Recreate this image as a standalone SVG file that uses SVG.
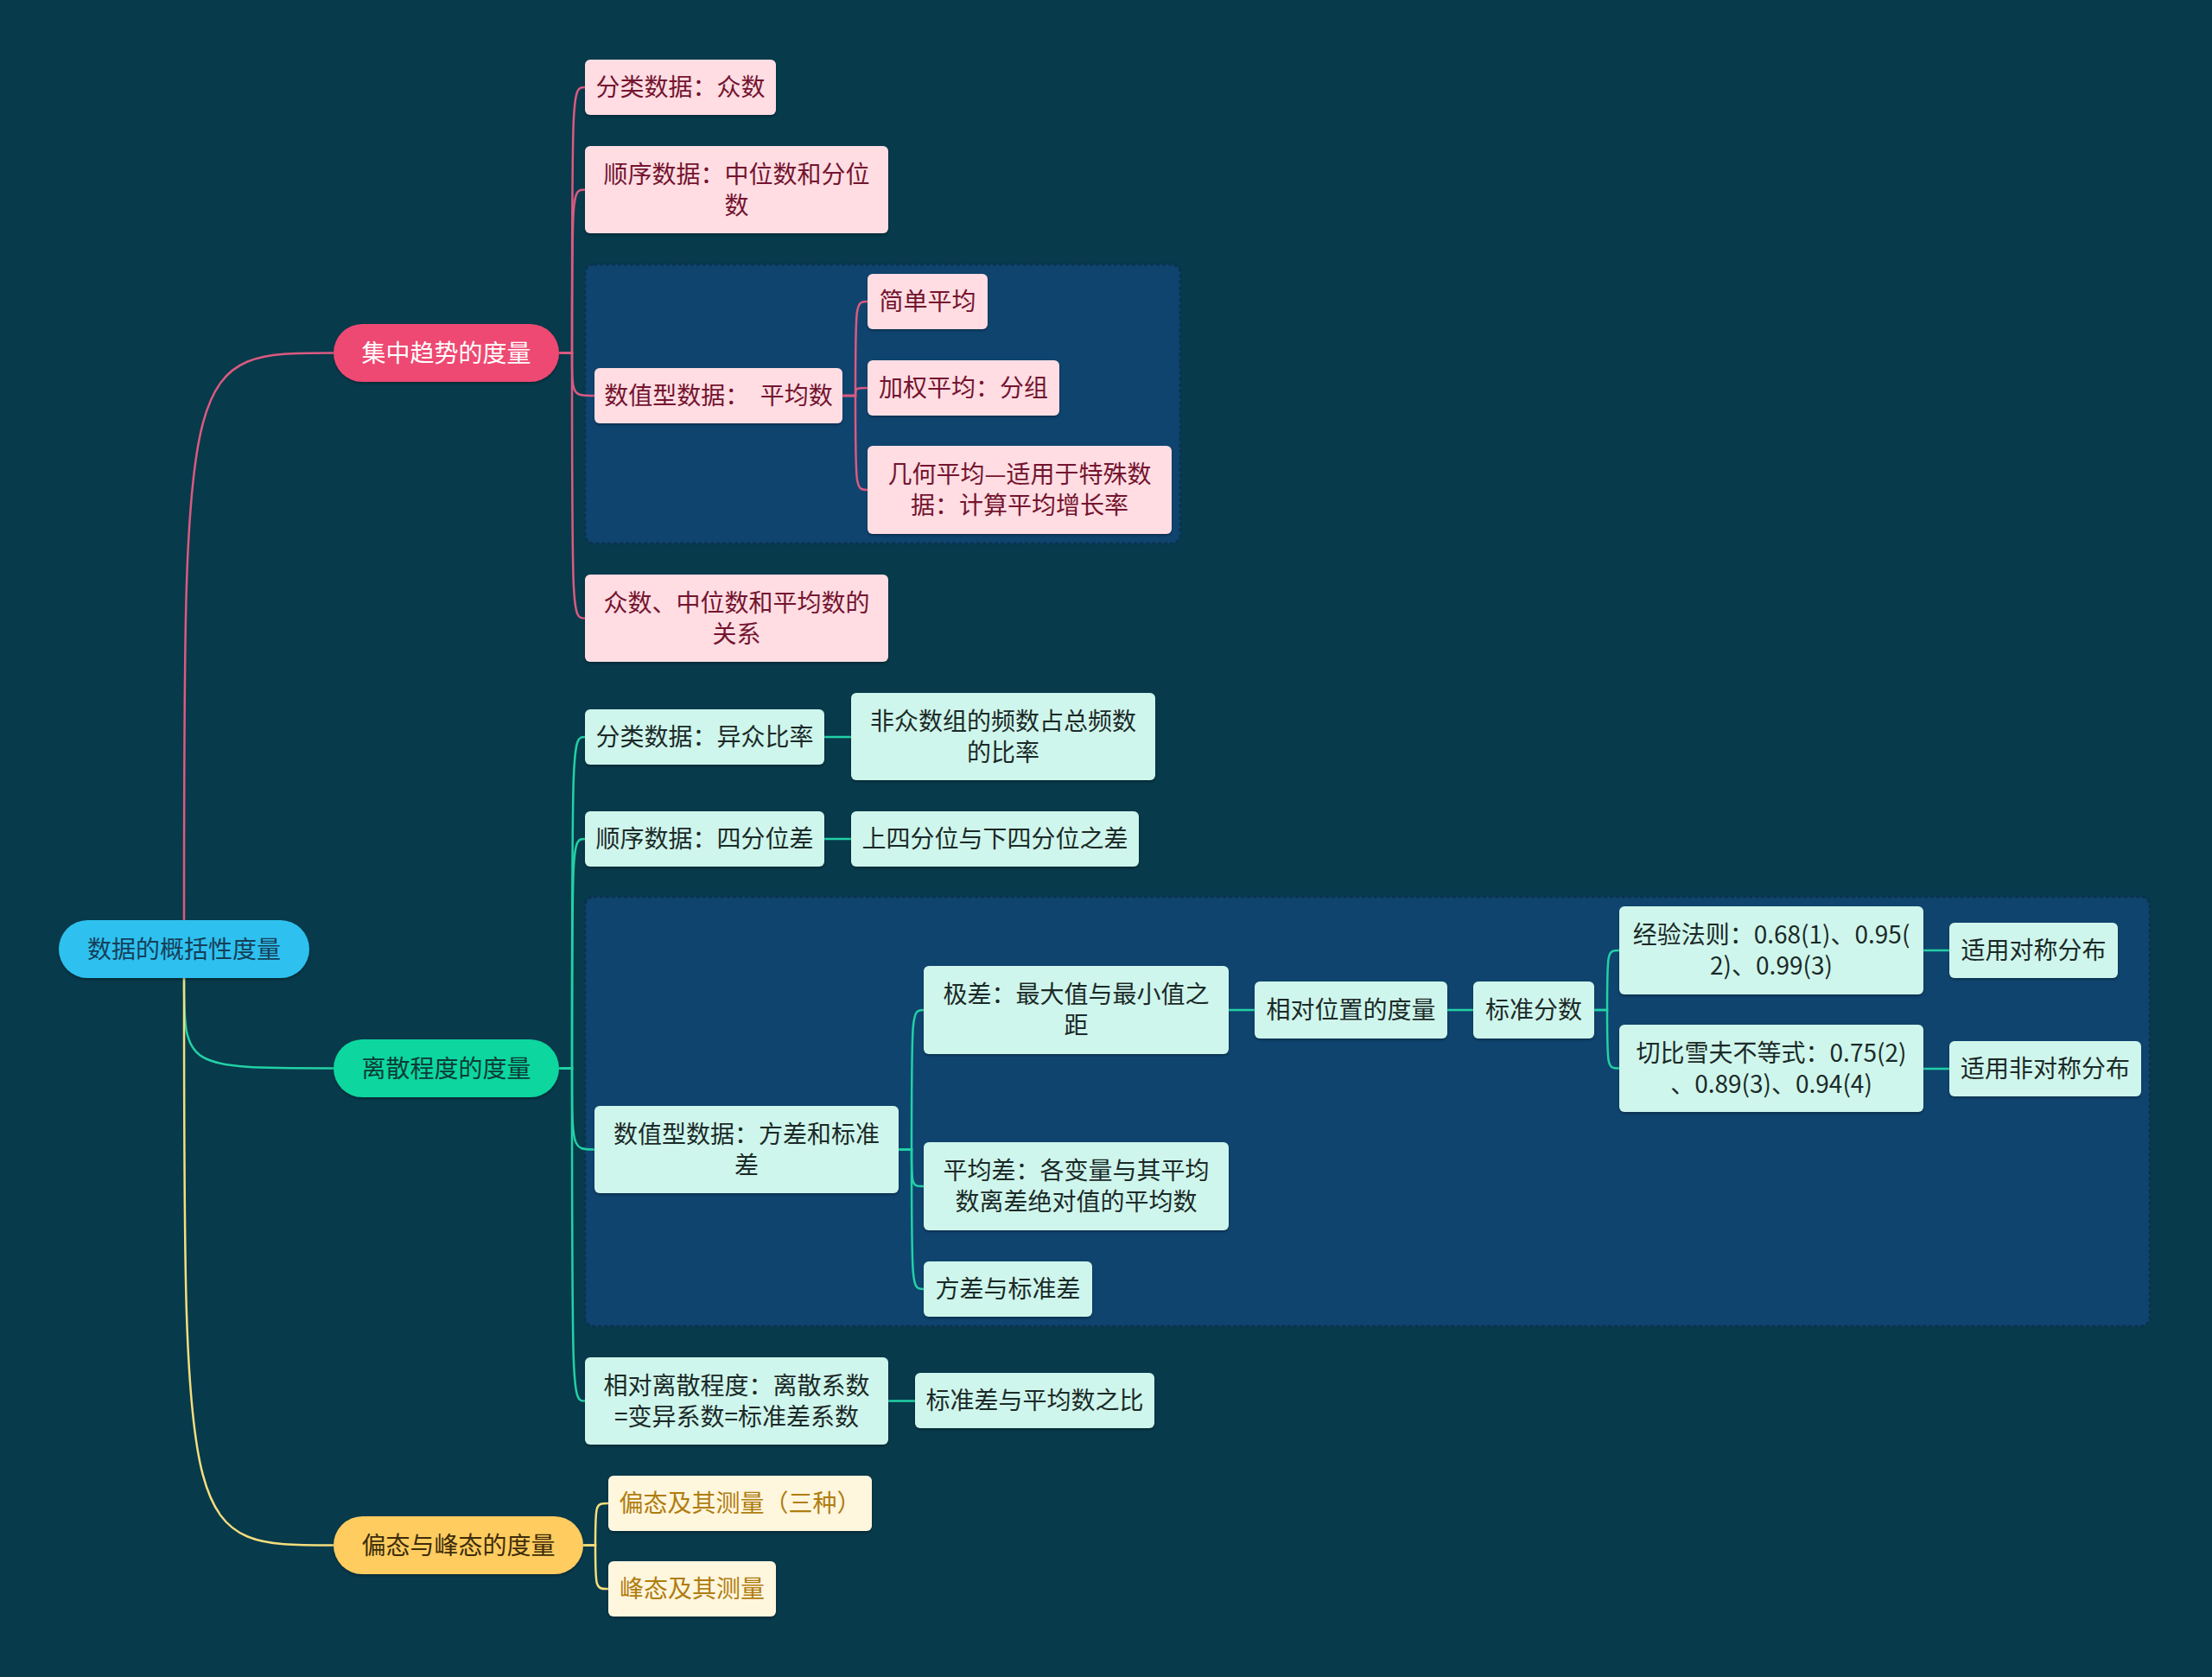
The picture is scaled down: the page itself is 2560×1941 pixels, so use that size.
<svg xmlns="http://www.w3.org/2000/svg" width="2560" height="1941" viewBox="0 0 2560 1941">
<defs>
<filter id="sh" x="-10%" y="-20%" width="120%" height="150%">
<feDropShadow dx="0" dy="2" stdDeviation="1.5" flood-color="#000" flood-opacity="0.3"/>
</filter>
<style>
text{font-family:"Noto Sans CJK SC","Noto Sans",sans-serif;font-size:28px;text-anchor:middle;dominant-baseline:central;white-space:pre;transform:translateY(-2px)}
.grp{fill:#0F446F;stroke:#0A3350;stroke-width:3;stroke-dasharray:4 3}
.pk{fill:#FFDDE3;filter:url(#sh)}
.pk-t{fill:#74142F}
.gn{fill:#CFF6EC;filter:url(#sh)}
.gn-t{fill:#1B2A28}
.yl{fill:#FFF6DE;filter:url(#sh)}
.yl-t{fill:#B07D10}
.cp{fill:none;stroke:#DC5A80;stroke-width:2.5}
.cg{fill:none;stroke:#22D1A5;stroke-width:2.5}
.cy{fill:none;stroke:#F5DE7C;stroke-width:2.5}
</style>
</defs>
<rect x="0" y="0" width="2560" height="1941" fill="#073A4B"/>

<g id="group-boxes">
<rect class="grp" x="677" y="306" width="689" height="323" rx="10"/>
<rect class="grp" x="677" y="1038" width="1811" height="497" rx="10"/>
</g>

<g id="connectors">
<path class="cp" d="M213 1065 C213 408.5 213 408.5 386 408.5"/>
<path class="cg" d="M213 1132 C213 1236.5 213 1236.5 386 1236.5"/>
<path class="cy" d="M213 1132 C213 1788.5 213 1788.5 386 1788.5"/>

<path class="cp" d="M647 408.5 L662 408.5 C662 101 662 101 677 101"/>
<path class="cp" d="M647 408.5 L662 408.5 C662 219.5 662 219.5 677 219.5"/>
<path class="cp" d="M647 408.5 L662 408.5 C662 458 662 458 688 458"/>
<path class="cp" d="M647 408.5 L662 408.5 C662 715.5 662 715.5 677 715.5"/>

<path class="cp" d="M975 458 L990 458 C990 349 990 349 1004 349"/>
<path class="cp" d="M975 458 L990 458 C990 449 990 449 1004 449"/>
<path class="cp" d="M975 458 L990 458 C990 567 990 567 1004 567"/>

<path class="cg" d="M647 1236.5 L662 1236.5 C662 853 662 853 677 853"/>
<path class="cg" d="M647 1236.5 L662 1236.5 C662 971 662 971 677 971"/>
<path class="cg" d="M647 1236.5 L662 1236.5 C662 1330.5 662 1330.5 688 1330.5"/>
<path class="cg" d="M647 1236.5 L662 1236.5 C662 1621.5 662 1621.5 677 1621.5"/>

<path class="cg" d="M954 853 L985 853"/>
<path class="cg" d="M954 971 L985 971"/>
<path class="cg" d="M1028 1621.5 L1059 1621.5"/>

<path class="cg" d="M1040 1330.5 L1055 1330.5 C1055 1169 1055 1169 1069 1169"/>
<path class="cg" d="M1040 1330.5 L1055 1330.5 C1055 1373 1055 1373 1069 1373"/>
<path class="cg" d="M1040 1330.5 L1055 1330.5 C1055 1492 1055 1492 1069 1492"/>

<path class="cg" d="M1422 1169 L1452 1169"/>
<path class="cg" d="M1675 1169 L1705 1169"/>
<path class="cg" d="M1845 1169 L1860 1169 C1860 1100 1860 1100 1874 1100"/>
<path class="cg" d="M1845 1169 L1860 1169 C1860 1236.5 1860 1236.5 1874 1236.5"/>
<path class="cg" d="M2226 1100 L2256 1100"/>
<path class="cg" d="M2226 1237 L2256 1237"/>

<path class="cy" d="M675 1788.5 L689 1788.5 C689 1740 689 1740 704 1740"/>
<path class="cy" d="M675 1788.5 L689 1788.5 C689 1839 689 1839 704 1839"/>
</g>

<g id="root">
<rect x="68" y="1065" width="290" height="67" rx="33.5" fill="#2EC1F0" filter="url(#sh)"/>
<text x="213" y="1098.5" fill="#163F58">数据的概括性度量</text>
</g>

<g id="n-central">
<rect x="386" y="375" width="261" height="67" rx="33.5" fill="#EE4A72" filter="url(#sh)"/>
<text x="516.5" y="408.5" fill="#FFFFFF">集中趋势的度量</text>
</g>
<g id="n-dispersion">
<rect x="386" y="1203" width="261" height="67" rx="33.5" fill="#0DD69F" filter="url(#sh)"/>
<text x="516.5" y="1236.5" fill="#0B3B35">离散程度的度量</text>
</g>
<g id="n-skew">
<rect x="386" y="1755" width="289" height="67" rx="33.5" fill="#FECC5F" filter="url(#sh)"/>
<text x="530.5" y="1788.5" fill="#3D2C0A">偏态与峰态的度量</text>
</g>

<g id="p1">
<rect class="pk" x="677" y="69" width="221" height="64" rx="6"/>
<text class="pk-t" x="787.5" y="101">分类数据：众数</text>
</g>
<g id="p2">
<rect class="pk" x="677" y="169" width="351" height="101" rx="6"/>
<text class="pk-t" x="852.5" y="201.5">顺序数据：中位数和分位</text>
<text class="pk-t" x="852.5" y="237.5">数</text>
</g>
<g id="p3">
<rect class="pk" x="688" y="426" width="287" height="64" rx="6"/>
<text class="pk-t" x="831.5" y="458">数值型数据：  平均数</text>
</g>
<g id="p3a">
<rect class="pk" x="1004" y="317" width="139" height="64" rx="6"/>
<text class="pk-t" x="1073.5" y="349">简单平均</text>
</g>
<g id="p3b">
<rect class="pk" x="1004" y="417" width="222" height="64" rx="6"/>
<text class="pk-t" x="1115" y="449">加权平均：分组</text>
</g>
<g id="p3c">
<rect class="pk" x="1004" y="516" width="352" height="102" rx="6"/>
<text class="pk-t" x="1180" y="549">几何平均—适用于特殊数</text>
<text class="pk-t" x="1180" y="585">据：计算平均增长率</text>
</g>
<g id="p4">
<rect class="pk" x="677" y="665" width="351" height="101" rx="6"/>
<text class="pk-t" x="852.5" y="697.5">众数、中位数和平均数的</text>
<text class="pk-t" x="852.5" y="733.5">关系</text>
</g>

<g id="g1">
<rect class="gn" x="677" y="821" width="277" height="64" rx="6"/>
<text class="gn-t" x="815.5" y="853">分类数据：异众比率</text>
</g>
<g id="g1a">
<rect class="gn" x="985" y="802" width="352" height="101" rx="6"/>
<text class="gn-t" x="1161" y="834.5">非众数组的频数占总频数</text>
<text class="gn-t" x="1161" y="870.5">的比率</text>
</g>
<g id="g2">
<rect class="gn" x="677" y="939" width="277" height="64" rx="6"/>
<text class="gn-t" x="815.5" y="971">顺序数据：四分位差</text>
</g>
<g id="g2a">
<rect class="gn" x="985" y="939" width="333" height="64" rx="6"/>
<text class="gn-t" x="1151.5" y="971">上四分位与下四分位之差</text>
</g>
<g id="g3">
<rect class="gn" x="688" y="1280" width="352" height="101" rx="6"/>
<text class="gn-t" x="864" y="1312.5">数值型数据：方差和标准</text>
<text class="gn-t" x="864" y="1348.5">差</text>
</g>
<g id="g3a">
<rect class="gn" x="1069" y="1118" width="353" height="102" rx="6"/>
<text class="gn-t" x="1245.5" y="1151">极差：最大值与最小值之</text>
<text class="gn-t" x="1245.5" y="1187">距</text>
</g>
<g id="g3a1">
<rect class="gn" x="1452" y="1136" width="223" height="66" rx="6"/>
<text class="gn-t" x="1563.5" y="1169">相对位置的度量</text>
</g>
<g id="g3a2">
<rect class="gn" x="1705" y="1136" width="140" height="66" rx="6"/>
<text class="gn-t" x="1775" y="1169">标准分数</text>
</g>
<g id="g3a3">
<rect class="gn" x="1874" y="1049" width="352" height="102" rx="6"/>
<text class="gn-t" x="2050" y="1082">经验法则：0.68(1)、0.95(</text>
<text class="gn-t" x="2050" y="1118">2)、0.99(3)</text>
</g>
<g id="g3a4">
<rect class="gn" x="2256" y="1068" width="195" height="64" rx="6"/>
<text class="gn-t" x="2353.5" y="1100">适用对称分布</text>
</g>
<g id="g3a5">
<rect class="gn" x="1874" y="1186" width="352" height="101" rx="6"/>
<text class="gn-t" x="2050" y="1218.5">切比雪夫不等式：0.75(2)</text>
<text class="gn-t" x="2050" y="1254.5">、0.89(3)、0.94(4)</text>
</g>
<g id="g3a6">
<rect class="gn" x="2256" y="1205" width="222" height="64" rx="6"/>
<text class="gn-t" x="2367" y="1237">适用非对称分布</text>
</g>
<g id="g3b">
<rect class="gn" x="1069" y="1322" width="353" height="102" rx="6"/>
<text class="gn-t" x="1245.5" y="1355">平均差：各变量与其平均</text>
<text class="gn-t" x="1245.5" y="1391">数离差绝对值的平均数</text>
</g>
<g id="g3c">
<rect class="gn" x="1069" y="1460" width="195" height="64" rx="6"/>
<text class="gn-t" x="1166.5" y="1492">方差与标准差</text>
</g>
<g id="g4">
<rect class="gn" x="677" y="1571" width="351" height="101" rx="6"/>
<text class="gn-t" x="852.5" y="1603.5">相对离散程度：离散系数</text>
<text class="gn-t" x="852.5" y="1639.5">=变异系数=标准差系数</text>
</g>
<g id="g4a">
<rect class="gn" x="1059" y="1589" width="277" height="64" rx="6"/>
<text class="gn-t" x="1197.5" y="1621">标准差与平均数之比</text>
</g>

<g id="y1">
<rect class="yl" x="704" y="1708" width="305" height="64" rx="6"/>
<text class="yl-t" x="856.5" y="1740">偏态及其测量（三种）</text>
</g>
<g id="y2">
<rect class="yl" x="704" y="1807" width="194" height="64" rx="6"/>
<text class="yl-t" x="801" y="1839">峰态及其测量</text>
</g>
</svg>
